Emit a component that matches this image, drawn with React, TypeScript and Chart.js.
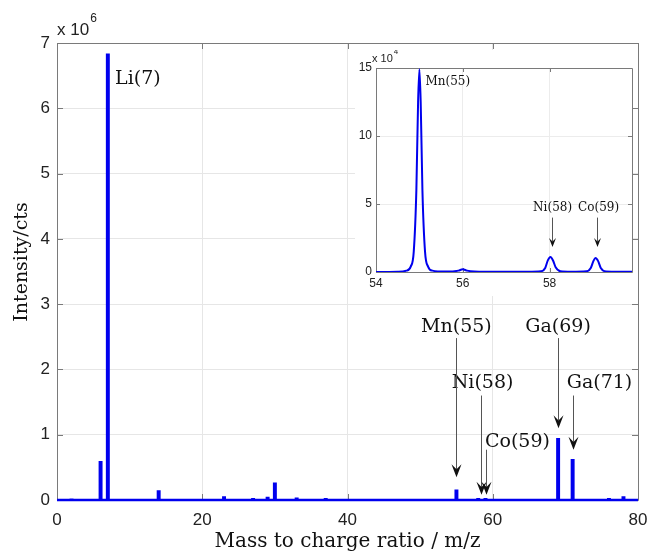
import React, { useEffect, useRef } from 'react';
import { Chart, registerables } from 'chart.js';

Chart.register(...registerables);

// ---------- main spectrum data ----------
const peakMass = [2, 6, 7, 14, 23, 27, 29, 30, 33, 37, 55, 58, 59, 69, 71, 76, 78];
const peakIntensity = [
  0.005e6, 0.58e6, 6.82e6, 0.13e6, 0.04e6, 0.01e6, 0.03e6, 0.25e6, 0.02e6, 0.01e6,
  0.14e6, 0.012e6, 0.012e6, 0.93e6, 0.61e6, 0.01e6, 0.04e6,
];
const mainXTicks = [0, 20, 40, 60, 80];
const mainYTicks = [0, 1e6, 2e6, 3e6, 4e6, 5e6, 6e6, 7e6];

// annotations of the main plot (data coordinates)
const annLabels = ['Mn(55)', 'Ni(58)', 'Co(59)', 'Ga(69)', 'Ga(71)'];
const annLabelX = [55, 58.6, 63.4, 69, 74.7];
const annLabelY = [2.65e6, 1.79e6, 0.89e6, 2.65e6, 1.79e6];
const annArrowX = [55, 58.45, 59.1, 69, 71];
const annStartY = [2.48e6, 1.6e6, 0.77e6, 2.48e6, 1.6e6];
const annTipY = [0.35e6, 0.08e6, 0.08e6, 1.1e6, 0.77e6];

// ---------- inset data ----------
const insetMass = [
  54, 54.5, 54.7, 54.8, 54.87, 54.93, 54.97, 55, 55.03, 55.07, 55.13, 55.2, 55.3, 55.6,
  55.9, 56, 56.1, 56.5, 57.5, 57.8, 57.9, 57.96, 58.02, 58.08, 58.14, 58.25, 58.5,
  58.85, 58.95, 59.01, 59.06, 59.12, 59.18, 59.3, 59.6, 59.9,
];
const insetIntensity = [
  0, 0.02e4, 0.1e4, 0.4e4, 1.5e4, 6e4, 12.5e4, 14.9e4, 12.5e4, 6e4, 1.5e4, 0.4e4, 0.1e4, 0.03e4,
  0.1e4, 0.2e4, 0.1e4, 0.02e4, 0.02e4, 0.05e4, 0.3e4, 0.85e4, 1.1e4, 0.85e4, 0.35e4, 0.05e4, 0.02e4,
  0.05e4, 0.3e4, 0.8e4, 1.03e4, 0.8e4, 0.3e4, 0.04e4, 0.02e4, 0.02e4,
];
const insetXTicks = [54, 56, 58];
const insetYTicks = [0, 5e4, 10e4, 15e4];
const insetLabels = ['Ni(58)', 'Co(59)'];
const insetLabelX = [58.07, 59.13];
const insetLabelY = [4.7e4, 4.7e4];
const insetArrowX = [58.05, 59.1];
const insetStartY = [4.0e4, 4.0e4];
const insetTipY = [1.84e4, 1.84e4];
const insetPeakLabel = 'Mn(55)';
const insetPeakLabelX = 55.14;
const insetPeakLabelY = 14.0e4;

const SANS = '"Liberation Sans", Arial, Helvetica, sans-serif';
const SERIF = '"DejaVu Serif", "Liberation Serif", serif';
const BLUE = '#0000ee';
const FRAME = '#7a7a7a';

function drawFrame(chart: any, tickLen: number) {
  const { ctx, chartArea, scales } = chart;
  const { left, right, top, bottom } = chartArea;
  ctx.save();
  ctx.strokeStyle = FRAME;
  ctx.lineWidth = 1;
  ctx.beginPath();
  ctx.rect(Math.round(left) + 0.5, Math.round(top) + 0.5, Math.round(right - left), Math.round(bottom - top));
  scales.x.ticks.forEach((t: any) => {
    const px = Math.round(scales.x.getPixelForValue(t.value)) + 0.5;
    ctx.moveTo(px, bottom);
    ctx.lineTo(px, bottom - tickLen);
    ctx.moveTo(px, top);
    ctx.lineTo(px, top + tickLen);
  });
  scales.y.ticks.forEach((t: any) => {
    const py = Math.round(scales.y.getPixelForValue(t.value)) + 0.5;
    ctx.moveTo(left, py);
    ctx.lineTo(left + tickLen, py);
    ctx.moveTo(right, py);
    ctx.lineTo(right - tickLen, py);
  });
  ctx.stroke();
  ctx.restore();
}

function drawArrow(ctx: CanvasRenderingContext2D, x: number, y0: number, y1: number, hw: number, hl: number) {
  const px = Math.round(x) + 0.5;
  ctx.save();
  ctx.strokeStyle = '#555';
  ctx.lineWidth = 1;
  ctx.beginPath();
  ctx.moveTo(px, y0);
  ctx.lineTo(px, y1 - hl * 0.6);
  ctx.stroke();
  ctx.fillStyle = '#111';
  ctx.beginPath();
  ctx.moveTo(px, y1);
  ctx.lineTo(px - hw, y1 - hl);
  ctx.lineTo(px, y1 - hl * 0.6);
  ctx.lineTo(px + hw, y1 - hl);
  ctx.closePath();
  ctx.fill();
  ctx.restore();
}

function drawExponent(ctx: CanvasRenderingContext2D, x: number, y: number, exp: string, size: number) {
  ctx.save();
  ctx.fillStyle = '#222';
  ctx.textAlign = 'left';
  ctx.textBaseline = 'middle';
  ctx.font = `${size}px ${SANS}`;
  ctx.fillText('x 10', x, y);
  const w = ctx.measureText('x 10').width;
  ctx.font = `${Math.round(size * 0.7)}px ${SANS}`;
  ctx.fillText(exp, x + w + 1, y - size * 0.65);
  ctx.restore();
}

const mainPlugin = {
  id: 'mainDecor',
  beforeDatasetsDraw(chart: any) {
    drawFrame(chart, 6);
  },
  afterDraw(chart: any) {
    const { ctx, chartArea, scales } = chart;
    const { x, y } = scales;
    drawExponent(ctx, chartArea.left, 30, '6', 17);
    ctx.save();
    ctx.fillStyle = '#111';
    ctx.font = `19px ${SERIF}`;
    ctx.textBaseline = 'middle';
    ctx.textAlign = 'left';
    ctx.fillText('Li(7)', x.getPixelForValue(8.0), y.getPixelForValue(6.45e6));
    ctx.textAlign = 'center';
    annLabels.forEach((lab, i) => {
      ctx.fillText(lab, x.getPixelForValue(annLabelX[i]), y.getPixelForValue(annLabelY[i]));
    });
    ctx.restore();
    annLabels.forEach((_, i) => {
      drawArrow(ctx, x.getPixelForValue(annArrowX[i]), y.getPixelForValue(annStartY[i]), y.getPixelForValue(annTipY[i]), 5, 13);
    });
    // axis titles
    ctx.save();
    ctx.fillStyle = '#111';
    ctx.font = `20px ${SERIF}`;
    ctx.textAlign = 'center';
    ctx.textBaseline = 'middle';
    ctx.fillText('Mass to charge ratio / m/z', (chartArea.left + chartArea.right) / 2, 542);
    ctx.translate(22, 262);
    ctx.rotate(-Math.PI / 2);
    ctx.font = `19px ${SERIF}`;
    ctx.fillText('Intensity/cts', 0, 0);
    ctx.restore();
  },
};

const insetPlugin = {
  id: 'insetDecor',
  beforeDatasetsDraw(chart: any) {
    drawFrame(chart, 4);
  },
  afterDraw(chart: any) {
    const { ctx, chartArea, scales } = chart;
    const { x, y } = scales;
    drawExponent(ctx, chartArea.left - 4, 9, '4', 11);
    ctx.save();
    ctx.fillStyle = '#111';
    ctx.font = `12px ${SERIF}`;
    ctx.textBaseline = 'middle';
    ctx.textAlign = 'left';
    ctx.fillText(insetPeakLabel, x.getPixelForValue(insetPeakLabelX), y.getPixelForValue(insetPeakLabelY));
    ctx.textAlign = 'center';
    insetLabels.forEach((lab, i) => {
      ctx.fillText(lab, x.getPixelForValue(insetLabelX[i]), y.getPixelForValue(insetLabelY[i]));
    });
    ctx.restore();
    insetLabels.forEach((_, i) => {
      drawArrow(ctx, x.getPixelForValue(insetArrowX[i]), y.getPixelForValue(insetStartY[i]), y.getPixelForValue(insetTipY[i]), 3.5, 9);
    });
  },
};

export default function App() {
  const mainRef = useRef<HTMLCanvasElement | null>(null);
  const insetRef = useRef<HTMLCanvasElement | null>(null);

  useEffect(() => {
    const mainPoints: { x: number; y: number }[] = [{ x: 0, y: 0 }];
    peakMass.forEach((m, i) => {
      const h = peakIntensity[i];
      mainPoints.push({ x: m - 0.1, y: 0 }, { x: m - 0.1, y: h }, { x: m + 0.1, y: h }, { x: m + 0.1, y: 0 });
    });
    mainPoints.push({ x: 80, y: 0 });

    const main = new Chart(mainRef.current as HTMLCanvasElement, {
      type: 'line',
      data: {
        datasets: [
          {
            data: mainPoints,
            borderColor: BLUE,
            borderWidth: 2.5,
            pointRadius: 0,
            tension: 0,
            fill: false,
            clip: false as any,
          },
        ],
      },
      options: {
        animation: false,
        responsive: false,
        maintainAspectRatio: false,
        layout: { padding: { left: 0, top: 43, right: 13, bottom: 0 } },
        plugins: { legend: { display: false }, tooltip: { enabled: false } },
        scales: {
          x: {
            type: 'linear',
            min: 0,
            max: 80,
            afterBuildTicks: (s: any) => {
              s.ticks = mainXTicks.map((v) => ({ value: v }));
            },
            afterFit: (s: any) => {
              s.height = 51;
              s.paddingLeft = 0;
              s.paddingRight = 0;
            },
            grid: { color: '#e6e6e6', drawTicks: false, lineWidth: 1 },
            border: { display: false },
            ticks: { font: { family: SANS, size: 17 }, color: '#222', padding: 10, maxRotation: 0 },
          },
          y: {
            type: 'linear',
            min: 0,
            max: 7e6,
            afterBuildTicks: (s: any) => {
              s.ticks = mainYTicks.map((v) => ({ value: v }));
            },
            afterFit: (s: any) => {
              s.width = 57;
              s.paddingTop = 0;
              s.paddingBottom = 0;
            },
            grid: { color: '#e6e6e6', drawTicks: false, lineWidth: 1 },
            border: { display: false },
            ticks: {
              font: { family: SANS, size: 17 },
              color: '#222',
              padding: 7,
              callback: (v: any) => String(Number(v) / 1e6),
            },
          },
        },
      },
      plugins: [mainPlugin],
    });

    const insetPoints = insetMass.map((m, i) => ({ x: m, y: insetIntensity[i] }));
    const inset = new Chart(insetRef.current as HTMLCanvasElement, {
      type: 'line',
      data: {
        datasets: [
          {
            data: insetPoints,
            borderColor: BLUE,
            borderWidth: 2,
            pointRadius: 0,
            cubicInterpolationMode: 'monotone',
            fill: false,
          },
        ],
      },
      options: {
        animation: false,
        responsive: false,
        maintainAspectRatio: false,
        layout: { padding: { left: 0, top: 18, right: 1, bottom: 0 } },
        plugins: { legend: { display: false }, tooltip: { enabled: false } },
        scales: {
          x: {
            type: 'linear',
            min: 54,
            max: 59.9,
            afterBuildTicks: (s: any) => {
              s.ticks = insetXTicks.map((v) => ({ value: v }));
            },
            afterFit: (s: any) => {
              s.height = 24;
              s.paddingLeft = 0;
              s.paddingRight = 0;
            },
            grid: { color: '#ececec', drawTicks: false, lineWidth: 1 },
            border: { display: false },
            ticks: { font: { family: SANS, size: 12 }, color: '#222', padding: 4, maxRotation: 0 },
          },
          y: {
            type: 'linear',
            min: 0,
            max: 15e4,
            afterBuildTicks: (s: any) => {
              s.ticks = insetYTicks.map((v) => ({ value: v }));
            },
            afterFit: (s: any) => {
              s.width = 21;
              s.paddingTop = 0;
              s.paddingBottom = 0;
            },
            grid: { color: '#ececec', drawTicks: false, lineWidth: 1 },
            border: { display: false },
            ticks: {
              font: { family: SANS, size: 12 },
              color: '#222',
              padding: 4,
              callback: (v: any) => String(Number(v) / 1e4),
            },
          },
        },
      },
      plugins: [insetPlugin],
    });

    return () => {
      main.destroy();
      inset.destroy();
    };
  }, []);

  return (
    <div style={{ position: 'absolute', left: 0, top: 0, width: 651, height: 551, background: '#fff' }}>
      <canvas ref={mainRef} width={651} height={551} style={{ position: 'absolute', left: 0, top: 0, display: 'block' }} />
      <div style={{ position: 'absolute', left: 355, top: 50, width: 278, height: 246, background: '#fff' }}>
        <canvas ref={insetRef} width={278} height={246} style={{ display: 'block' }} />
      </div>
    </div>
  );
}
